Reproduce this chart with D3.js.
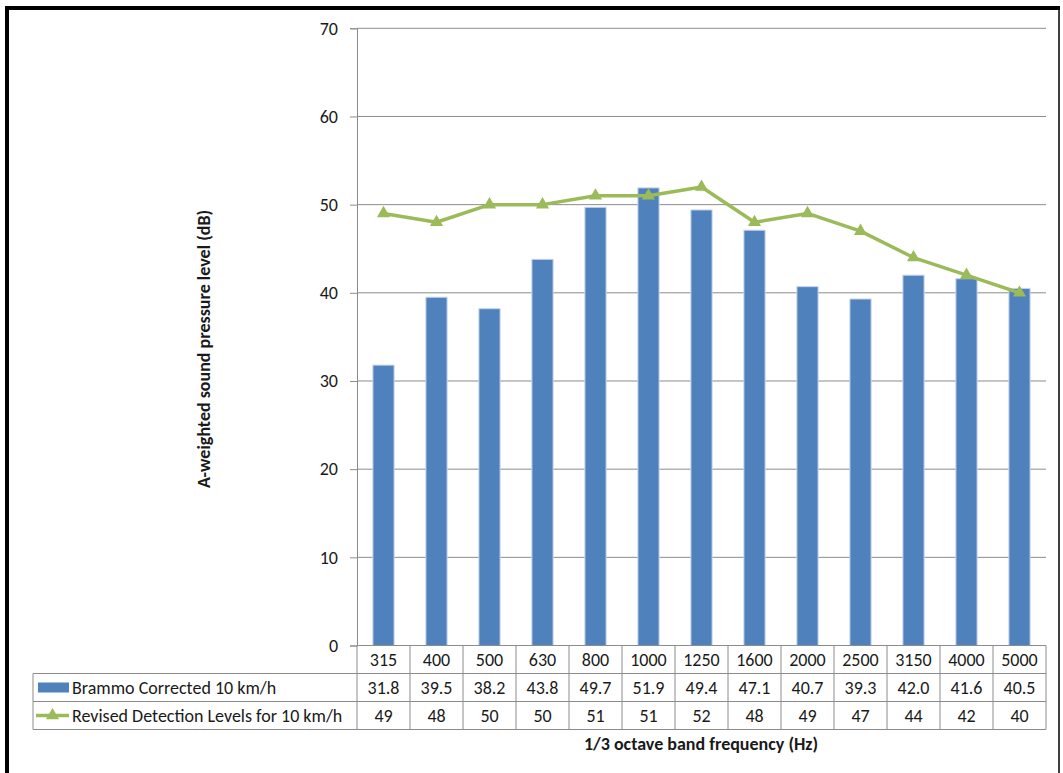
<!DOCTYPE html>
<html lang="en">
<head>
<meta charset="UTF-8">
<title>Brammo 10 km/h</title>
<script src="https://cdn.jsdelivr.net/npm/d3@7"></script>
<style>
  body { margin: 0; background: #fff; }
  svg text { font-family: Carlito, Calibri, Lato, "Open Sans", sans-serif; fill: #1a1a1a; }
</style>
</head>
<body>
<script>
// chart values
var bands = ["315", "400", "500", "630", "800", "1000", "1250", "1600", "2000", "2500", "3150", "4000", "5000"];
var brammo = [31.8, 39.5, 38.2, 43.8, 49.7, 51.9, 49.4, 47.1, 40.7, 39.3, 42.0, 41.6, 40.5];
var brammoLabels = ["31.8", "39.5", "38.2", "43.8", "49.7", "51.9", "49.4", "47.1", "40.7", "39.3", "42.0", "41.6", "40.5"];
var detection = [49, 48, 50, 50, 51, 51, 52, 48, 49, 47, 44, 42, 40];
var yTicks = [0, 10, 20, 30, 40, 50, 60, 70];
var seriesNames = ["Brammo Corrected 10 km/h", "Revised Detection Levels for 10 km/h"];

var blue = "#4f81bd", green = "#9bbb59", grid = "#8c8c8c";
var fs = "18px";

var svg = d3.select("body").append("svg")
  .attr("width", 1063)
  .attr("height", 773);

// frame
svg.append("line").attr("x1", 7).attr("x2", 7).attr("y1", 6).attr("y2", 773)
  .attr("stroke", "#000").attr("stroke-width", 4);
svg.append("line").attr("x1", 5).attr("x2", 1060).attr("y1", 8).attr("y2", 8)
  .attr("stroke", "#000").attr("stroke-width", 4);
svg.append("line").attr("x1", 1059).attr("x2", 1059).attr("y1", 6).attr("y2", 773)
  .attr("stroke", "#000").attr("stroke-width", 1.5);

var plotLeft = 357, plotRight = 1046, plotTop = 28.3, plotBottom = 645.5;

var col = d3.scaleBand().domain(bands).range([plotLeft, plotRight]).padding(0);
var x = d3.scaleBand().domain(bands).range([plotLeft, plotRight]).paddingInner(0.6).paddingOuter(0.3);
var y = d3.scaleLinear().domain([0, 70]).range([plotBottom, plotTop]);

// gridlines
svg.append("g").selectAll("line")
  .data(yTicks.filter(function(d) { return d > 0; }))
  .enter().append("line")
  .attr("x1", plotLeft).attr("x2", plotRight)
  .attr("y1", function(d) { return y(d); })
  .attr("y2", function(d) { return y(d); })
  .attr("stroke", grid).attr("stroke-width", 1);

// y axis
var yAxis = svg.append("g")
  .attr("transform", "translate(" + plotLeft + ",0)")
  .call(d3.axisLeft(y).tickValues(yTicks).tickSize(7).tickPadding(12));
yAxis.select(".domain").attr("stroke", grid);
yAxis.selectAll(".tick line").attr("stroke", grid);
yAxis.selectAll(".tick text").style("font-size", fs).attr("fill", "#1a1a1a");

// bars
svg.append("g").selectAll("rect")
  .data(brammo)
  .enter().append("rect")
  .attr("x", function(d, i) { return x(bands[i]); })
  .attr("width", x.bandwidth())
  .attr("y", function(d) { return y(d); })
  .attr("height", function(d) { return y(0) - y(d); })
  .attr("fill", blue)
  .attr("stroke", "#c9d6ea")
  .attr("stroke-width", 1);

// detection line
var line = d3.line()
  .x(function(d, i) { return col(bands[i]) + col.bandwidth() / 2; })
  .y(function(d) { return y(d); });

svg.append("path")
  .datum(detection)
  .attr("d", line)
  .attr("fill", "none")
  .attr("stroke", green)
  .attr("stroke-width", 3.5)
  .attr("stroke-linejoin", "round");

var tri = d3.symbol().type(d3.symbolTriangle).size(75);
svg.append("g").selectAll("path")
  .data(detection)
  .enter().append("path")
  .attr("d", tri)
  .attr("transform", function(d, i) {
    return "translate(" + (col(bands[i]) + col.bandwidth() / 2) + "," + y(d) + ")";
  })
  .attr("fill", green);

// x axis baseline
svg.append("line").attr("x1", plotLeft).attr("x2", plotRight)
  .attr("y1", plotBottom).attr("y2", plotBottom)
  .attr("stroke", grid);

// data table
var tableLeft = 33, rowH = 28;
var rows = [plotBottom, plotBottom + rowH, plotBottom + 2 * rowH, plotBottom + 3 * rowH];
var tbl = svg.append("g").attr("stroke", grid).attr("stroke-width", 1);

tbl.selectAll("line.h")
  .data(rows.slice(1))
  .enter().append("line")
  .attr("x1", tableLeft).attr("x2", plotRight)
  .attr("y1", function(d) { return d; })
  .attr("y2", function(d) { return d; });

tbl.selectAll("line.v")
  .data(bands.concat(["end"]))
  .enter().append("line")
  .attr("x1", function(d, i) { return plotLeft + i * col.step(); })
  .attr("x2", function(d, i) { return plotLeft + i * col.step(); })
  .attr("y1", plotBottom)
  .attr("y2", rows[3]);

tbl.append("line")
  .attr("x1", tableLeft).attr("x2", tableLeft)
  .attr("y1", rows[1]).attr("y2", rows[3]);

function rowText(labels, r) {
  svg.append("g").selectAll("text")
    .data(labels)
    .enter().append("text")
    .attr("x", function(d, i) { return col(bands[i]) + col.bandwidth() / 2; })
    .attr("y", (rows[r] + rows[r + 1]) / 2)
    .attr("dy", "0.35em")
    .attr("text-anchor", "middle")
    .style("font-size", fs)
    .text(function(d) { return d; });
}
rowText(bands, 0);
rowText(brammoLabels, 1);
rowText(detection.map(String), 2);

// legend keys in table
var r1 = (rows[1] + rows[2]) / 2, r2 = (rows[2] + rows[3]) / 2;
svg.append("rect")
  .attr("x", 38).attr("y", r1 - 5).attr("width", 31).attr("height", 10)
  .attr("fill", blue);
svg.append("line")
  .attr("x1", 36).attr("x2", 69).attr("y1", r2).attr("y2", r2)
  .attr("stroke", green).attr("stroke-width", 3.5);
svg.append("path")
  .attr("d", tri)
  .attr("transform", "translate(52.5," + r2 + ")")
  .attr("fill", green);

svg.selectAll("text.series")
  .data(seriesNames)
  .enter().append("text")
  .attr("class", "series")
  .attr("x", 72)
  .attr("y", function(d, i) { return i === 0 ? r1 : r2; })
  .attr("dy", "0.35em")
  .style("font-size", fs)
  .text(function(d) { return d; });

// axis titles
svg.append("text")
  .attr("x", 701).attr("y", 750)
  .attr("text-anchor", "middle")
  .style("font-size", fs)
  .style("font-weight", "bold")
  .text("1/3 octave band frequency (Hz)");

svg.append("text")
  .attr("transform", "translate(210,349) rotate(-90)")
  .attr("text-anchor", "middle")
  .style("font-size", fs)
  .style("font-weight", "bold")
  .text("A-weighted sound pressure level (dB)");
</script>
</body>
</html>
